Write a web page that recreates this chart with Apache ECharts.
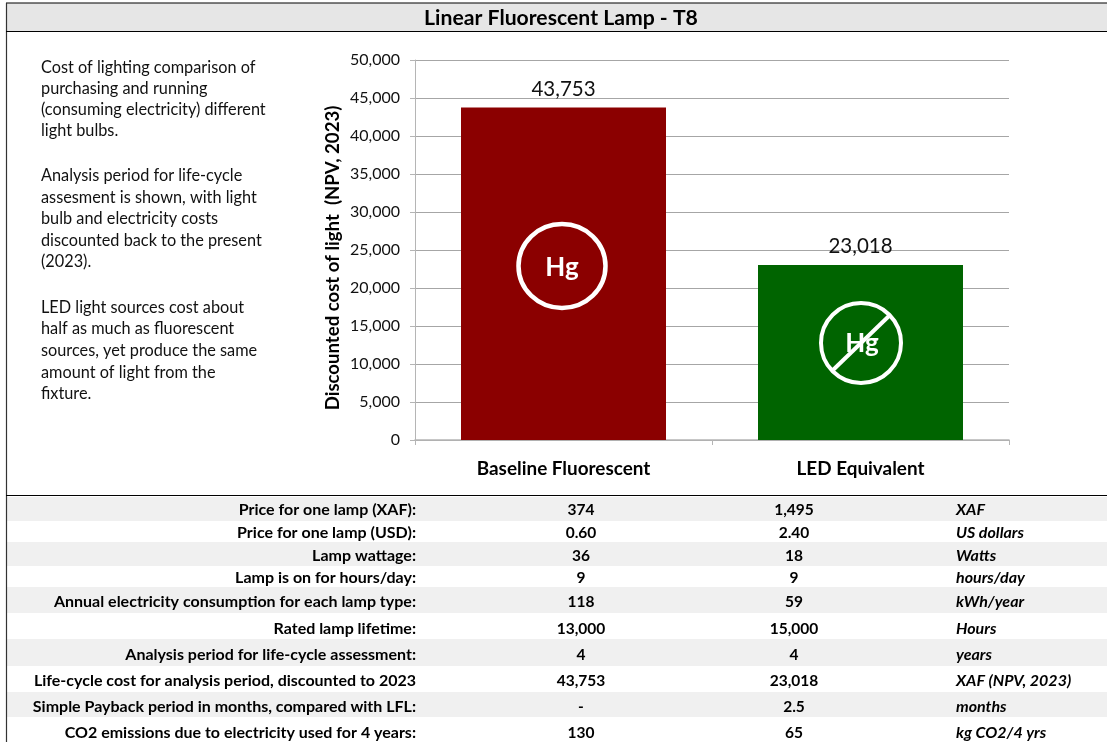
<!DOCTYPE html>
<html><head><meta charset="utf-8">
<style>html,body{margin:0;padding:0;background:#fff}#c{width:1107px;height:742px}</style>
<script src="https://cdn.jsdelivr.net/npm/echarts@6/dist/echarts.min.js"></script></head>
<body><div id="c"></div>
<script>
const categories = ['Baseline Fluorescent', 'LED Equivalent'];
const costValues = [43753, 23018];
const barColors = ['#8b0000', '#006400'];
const titleText = 'Linear Fluorescent Lamp - T8';
const yAxisName = 'Discounted cost of light  (NPV, 2023)';
const noteLines = [
  'Cost of lighting comparison of', 'purchasing and running', '(consuming electricity) different', 'light bulbs.', '',
  'Analysis period for life-cycle', 'assesment is shown, with light', 'bulb and electricity costs', 'discounted back to the present', '(2023).', '',
  'LED light sources cost about', 'half as much as fluorescent', 'sources, yet produce the same', 'amount of light from the', 'fixture.'
];
const noteY = [68,89,110,131,0,176,198,219,241,262,0,308,329,351,373,394];
const rowLabels = ['Price for one lamp (XAF):','Price for one lamp (USD):','Lamp wattage:','Lamp is on for hours/day:','Annual electricity consumption for each lamp type:','Rated lamp lifetime:','Analysis period for life-cycle assessment:','Life-cycle cost for analysis period, discounted to 2023','Simple Payback period in months, compared with LFL:','CO2 emissions due to electricity used for 4 years:'];
const baselineCol = ['374','0.60','36','9','118','13,000','4','43,753','-','130'];
const ledCol = ['1,495','2.40','18','9','59','15,000','4','23,018','2.5','65'];
const unitCol = ['XAF','US dollars','Watts','hours/day','kWh/year','Hours','years','XAF (NPV, 2023)','months','kg CO2/4 yrs'];
const rowTops = [497,521,542,566,587,613,639,666,692,717,742];
const rowText = [510,533,556,578,602,629,655,681,707,733];

const FF = 'Lato, Carlito, sans-serif';
const g = [];
const rect = (x,y,w,h,fill) => g.push({type:'rect',silent:true,shape:{x,y,width:w,height:h},style:{fill},z:0});
const text = (x,y,t,o,z) => g.push({type:'text',silent:true,x,y,z:z||5,style:Object.assign({text:t,fontFamily:FF,fontSize:16,fontWeight:'bold',fill:'#000',verticalAlign:'middle'},o)});

rect(6,3,1101,28,'#e6e6e6');
rowLabels.forEach((l,i)=>{
  if(i%2===0) rect(7,rowTops[i],1100,rowTops[i+1]-rowTops[i],'#f0f0f0');
  text(416,rowText[i],l,{align:'right'});
  text(581,rowText[i],baselineCol[i],{align:'center',fontSize:15.5});
  text(794,rowText[i],ledCol[i],{align:'center',fontSize:15.5});
  text(956,rowText[i],unitCol[i],{align:'left',fontStyle:'italic'});
});
const line = (x1,y1,x2,y2,stroke,w) => g.push({type:'line',silent:true,shape:{x1,y1,x2,y2},style:{stroke,lineWidth:w},z:4});
line(6,3,1107,3,'#000',1.2); line(6.5,3,6.5,742,'#333',1.2); line(6,31.5,1107,31.5,'#000',1.2); line(6,495.5,1107,495.5,'#000',1.2);
text(561,18,titleText,{align:'center',fontSize:21.2});
noteLines.forEach((l,i)=>{ if(l) text(41,noteY[i],l,{fontWeight:'normal',fontSize:16.3,fill:'#111'}); });
g.push({type:'ellipse',silent:true,shape:{cx:562,cy:266,rx:43.5,ry:42},style:{fill:'none',stroke:'#fff',lineWidth:4.5},z:6});
text(562,268,'Hg',{align:'center',fontSize:26,fill:'#fff'},7);
g.push({type:'circle',silent:true,shape:{cx:861,cy:343,r:40},style:{fill:'none',stroke:'#fff',lineWidth:4},z:6});
text(862,344,'Hg',{align:'center',fontSize:26,fill:'#fff'},7);
g.push({type:'line',silent:true,shape:{x1:833,y1:370,x2:890,y2:315},style:{stroke:'#fff',lineWidth:4},z:8});

const chart = echarts.init(document.getElementById('c'), null, {renderer:'canvas'});
chart.setOption({
  animation:false,
  backgroundColor:'#fff',
  grid:{left:415,top:60,width:594,height:380},
  graphic:g,
  xAxis:{type:'category',data:categories,
    axisLine:{lineStyle:{color:'#b5b5b5',width:1.5}},
    axisTick:{show:true,alignWithLabel:false,length:5,lineStyle:{color:'#b5b5b5'}},
    axisLabel:{fontFamily:FF,fontSize:18.9,fontWeight:'bold',color:'#000',margin:19}},
  yAxis:{type:'value',min:0,max:50000,interval:5000,
    name:yAxisName,nameLocation:'middle',nameGap:73,nameRotate:90,nameMoveOverlap:false,
    nameTextStyle:{fontFamily:FF,fontSize:18.6,fontWeight:'bold',color:'#000',padding:[0,16,0,0]},
    axisLine:{show:true,lineStyle:{color:'#b5b5b5'}},
    axisTick:{show:true,length:5,lineStyle:{color:'#b5b5b5'}},
    splitLine:{show:true,lineStyle:{color:'#a6a6a6',width:1}},
    axisLabel:{fontFamily:FF,fontSize:16,color:'#111',margin:15,formatter:v=>v.toLocaleString('en-US')}},
  series:[{type:'bar',barWidth:205,z:2,
    data:costValues.map((v,i)=>({value:v,itemStyle:{color:barColors[i]}})),
    label:{show:true,position:'top',distance:8,fontFamily:FF,fontSize:20.5,color:'#111',formatter:p=>p.value.toLocaleString('en-US')}}]
});
</script></body></html>
